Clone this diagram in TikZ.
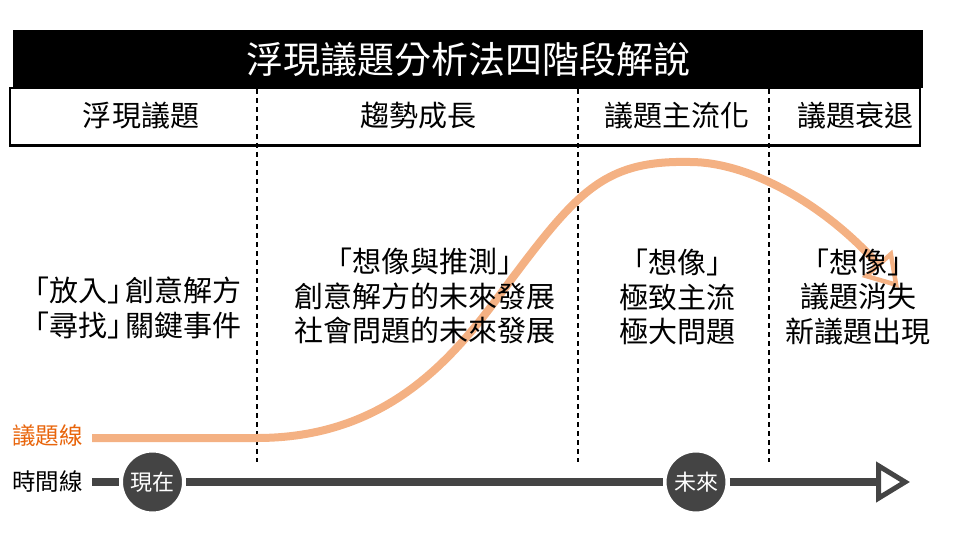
\documentclass[tikz,border=0pt]{standalone}
\usepackage{fontspec}
\setmainfont{Noto Sans CJK TC}
\usetikzlibrary{arrows.meta,positioning,calc}
\definecolor{issueOrange}{HTML}{F4B183}
\definecolor{issueText}{HTML}{E8650C}
\definecolor{timeGray}{HTML}{444444}

\tikzset{
  cell/.style={inner sep=0pt,font=\fontsize{29bp}{34bp}\selectfont},
  body/.style={align=center,inner sep=0pt,font=\fontsize{29bp}{34.5bp}\selectfont},
  divider/.style={dash pattern=on 5bp off 4bp,line width=1.6bp},
  issueline/.style={draw=issueOrange,line width=8bp,
    -{Triangle[open,length=33bp,width=40bp,line width=4.5bp]}},
  timeline/.style={draw=timeGray,line width=8bp},
  timemark/.style={circle,fill=timeGray,draw=white,line width=4bp,minimum size=63bp,
    inner sep=0pt,text=white,font=\fontsize{22bp}{22bp}\selectfont},
  axislabel/.style={anchor=west,inner sep=0pt,font=\fontsize{23.5bp}{24bp}\selectfont}
}

\begin{document}
\begin{tikzpicture}[x=1bp,y=-1bp]
  \useasboundingbox (0,0) rectangle (955,554);
  % title bar and phase header
  \node[fill=black,text=white,minimum width=910bp,minimum height=58bp,inner sep=0pt,
    font=\fontsize{37bp}{37bp}\selectfont] (title) at (468,59) {浮現議題分析法四階段解說};
  \node[draw=black,line width=1.2bp,minimum width=910bp,minimum height=57bp,inner sep=0pt] (row) at (465,116.5) {};
  \draw[line width=3bp] (row.south west) -- (row.south east);
  \node[cell] (h1) at (141,116) {浮現議題};
  \node[cell] (h2) at (418,116) {趨勢成長};
  \node[cell] (h3) at (677,116) {議題主流化};
  \node[cell] (h4) at (855,116) {議題衰退};

  \foreach \x [count=\i] in {257,578,769} {
    \coordinate (dtop\i) at (\x,89);
    \coordinate (dbot\i) at (\x,462);
    \draw[divider] (dtop\i) -- (dbot\i);
  }

  % issue curve
  \coordinate (issuestart) at (92,438);
  \coordinate (bend) at (257,438);
  \coordinate (rise) at (496,300);
  \coordinate (peak) at (690,162);
  \coordinate (issueend) at (899,288);
  \draw[issueline] (issuestart) -- (bend)
    .. controls (380,438) and (446,367) .. (rise)
    .. controls (575,194) and (600,160) .. (peak)
    .. controls (750,162) and (825,205) .. (issueend);

  \node[body] (phase1) at (131,308) {「放入」\kern-.35em 創意解方\\「尋找」\kern-.35em 關鍵事件};
  \node[body] (phase2) at (425,296) {「想像與推測」\\創意解方的未來發展\\社會問題的未來發展};
  \node[body] (phase3) at (677,297) {「想像」\\極致主流\\極大問題};
  \node[body] (phase4) at (858,297) {「想像」\\議題消失\\新議題出現};

  % time line
  \node[axislabel,text=issueText] (issuelabel) at (12,436) {議題線};
  \node[axislabel] (timelabel) at (12,482) {時間線};
  \coordinate (timestart) at (92,482);
  \node[timemark] (now) at (152.5,482) {現在};
  \node[timemark] (future) at (696,482) {未來};
  \coordinate (timeend) at (910,482);
  \draw[timeline] (timestart) -- (now);
  \draw[timeline] (now) -- (future);
  \draw[timeline,-{Triangle[open,length=34bp,width=40bp,line width=5bp]}] (future) -- (timeend);
\end{tikzpicture}
\end{document}
